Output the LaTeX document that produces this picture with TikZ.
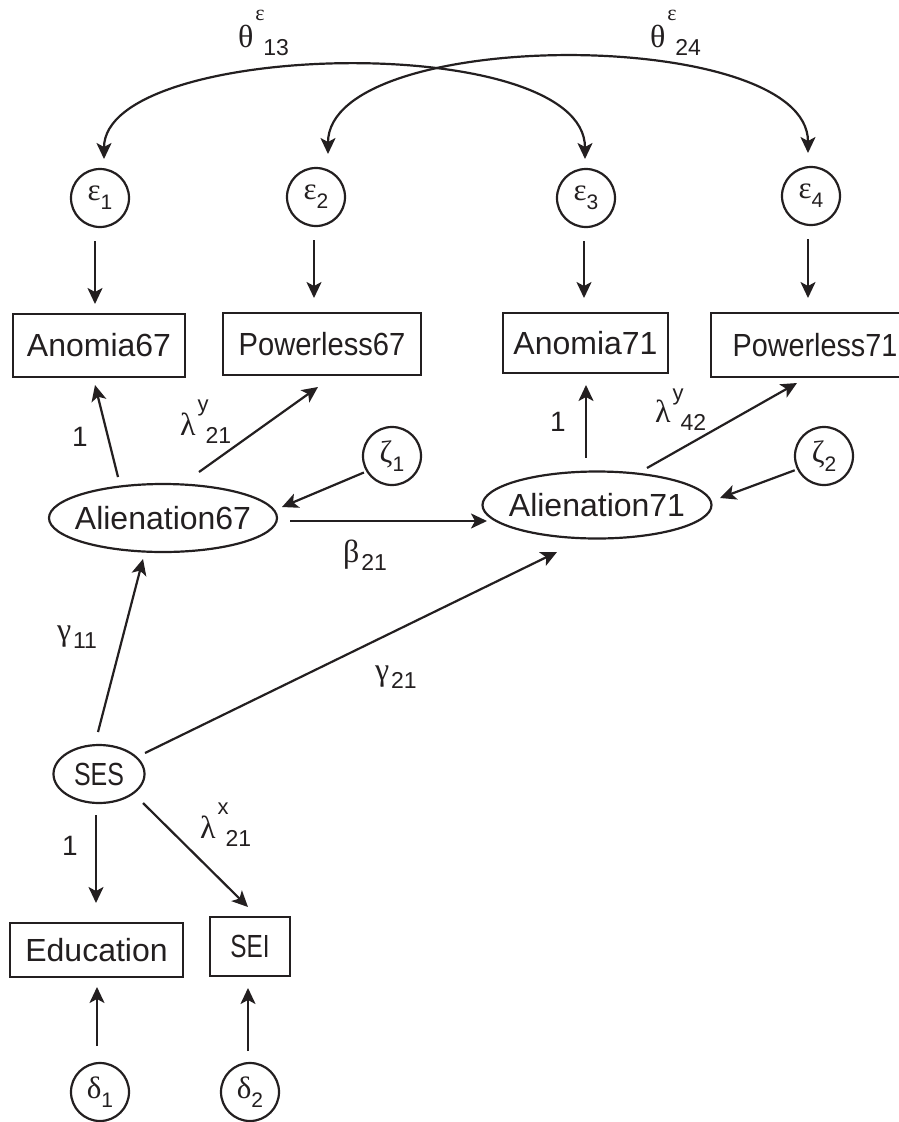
\documentclass[tikz,border=0pt]{standalone}
\usepackage{fontspec}
\usepackage{graphicx}
\setmainfont{Liberation Sans}
\newfontfamily\gk{Liberation Serif}
\usetikzlibrary{arrows.meta,shapes.geometric,calc}
\definecolor{ink}{HTML}{231F20}
\newcommand\gsym[4][24pt]{{\gk #2}\rlap{\hspace{2pt}\raisebox{#1}{\fontsize{22}{22}\selectfont #3}}\hspace{10pt}\raisebox{-8pt}{\fontsize{23}{23}\selectfont #4}}
\newcommand\gsub[2]{{\gk #1}\hspace{2pt}\raisebox{-8pt}{\fontsize{23}{23}\selectfont #2}}
\newcommand\errv[2]{{\gk #1}\raisebox{-9pt}{\fontsize{21}{21}\selectfont #2}}
\tikzset{
  every node/.style={inner sep=0pt, outer sep=0pt},
  box/.style={draw, rectangle, font=\fontsize{32}{38}\selectfont},
  lat/.style={draw, ellipse, font=\fontsize{32}{38}\selectfont},
  err/.style={draw, circle, minimum size=58pt, font=\fontsize{31}{36}\selectfont},
  lab/.style={anchor=base west, font=\fontsize{32}{36}\selectfont},
  one/.style={font=\fontsize{28}{30}\selectfont},
  arr/.style={-{Stealth[length=16pt,width=15pt,inset=4pt]}},
  dbl/.style={{Stealth[length=16pt,width=15pt,inset=4pt]}-{Stealth[length=16pt,width=15pt,inset=4pt]}},
}
\begin{document}
\begin{tikzpicture}[x=1pt,y=-1pt,line width=2.2pt,color=ink]
\useasboundingbox (0,0) rectangle (899,1122);
% error terms
\node[err] (e1) at (100,198) {\errv{ε}{1}};
\node[err] (e2) at (316,197) {\errv{ε}{2}};
\node[err] (e3) at (586,198) {\errv{ε}{3}};
\node[err] (e4) at (811,196) {\errv{ε}{4}};
\node[err] (z1) at (392,456) {\errv{ζ}{1}};
\node[err] (z2) at (824,456) {\errv{ζ}{2}};
\node[err] (d1) at (100,1092) {\errv{δ}{1}};
\node[err] (d2) at (250,1092) {\errv{δ}{2}};
% observed
\node[box, minimum width=172pt, minimum height=63pt] (an67) at (99,345.5) {Anomia67};
\node[box, minimum width=198pt, minimum height=62pt] (pw67) at (322,344) {\scalebox{0.91}[1]{Powerless67}};
\node[box, minimum width=165pt, minimum height=60pt] (an71) at (585.5,343) {Anomia71};
\node[box, minimum width=208pt, minimum height=64pt] (pw71) at (815,345) {\scalebox{0.9}[1]{Powerless71}};
\node[box, minimum width=173pt, minimum height=54pt] (edu) at (96.5,950) {Education};
\node[box, minimum width=80pt, minimum height=59pt] (sei) at (250,946.5) {\scalebox{0.76}[1]{SEI}};
% latent
\node[lat, minimum width=228pt, minimum height=68pt] (al67) at (163,518) {\makebox[0pt]{Alienation67}};
\node[lat, minimum width=229pt, minimum height=67pt] (al71) at (597,505) {\makebox[0pt]{Alienation71}};
\node[lat, minimum width=91pt, minimum height=58pt] (ses) at (99,774) {\makebox[0pt]{\scalebox{0.78}[1]{SES}}};
% labels
\node[lab] (t13) at (238,47) {\gsym[27pt]{θ}{\gk ε}{13}};
\node[lab] (t24) at (650,47) {\gsym[27pt]{θ}{\gk ε}{24}};
\node[lab] (l21) at (180,435) {\gsym{λ}{y}{21}};
\node[lab] (l42) at (655,422) {\gsym[22pt]{λ}{y}{42}};
\node[lab] (lx21) at (200,838) {\gsym{λ}{x}{21}};
\node[lab] (b21) at (343,562) {\gsub{β}{21}};
\node[lab] (g11) at (57,640) {\gsub{γ}{11}};
\node[lab] (g21) at (375,680) {\gsub{γ}{21}};
\node[one] (one1) at (80,437) {1};
\node[one] (one2) at (558,422) {1};
\node[one] (one3) at (70,846) {1};
% covariances
\draw[dbl, shorten <=10pt, shorten >=10pt] ($(e1.north)+(4,0)$) .. controls +(0,-129) and +(0,-139) .. ($(e3.north)+(-1,0)$);
\draw[dbl, shorten <=14pt, shorten >=14pt] ($(e2.north)+(12,0)$) .. controls +(0,-142) and +(0,-141) .. ($(e4.north)+(-3,0)$);
% error to indicators
\draw[arr] ($(e1.south)+(-5,14)$) -- ($(an67.north)+(-4,-10)$);
\draw[arr] ($(e2.south)+(-2,14)$) -- ($(pw67.north)+(-8,-15)$);
\draw[arr] ($(e3.south)+(-2,14)$) -- ($(an71.north)+(-1.5,-15)$);
\draw[arr] ($(e4.south)+(-3,14)$) -- ($(pw71.north)+(-7,-15)$);
% loadings
\draw[arr] ($(al67)+(-45,-41)$) -- ($(an67.south)+(-4,8)$);
\draw[arr] ($(al67)+(36,-46)$) -- ($(pw67.south)+(-4,12)$);
\draw[arr] ($(al71.north)+(-11,-14)$) -- ($(an71.south)+(0.5,12)$);
\draw[arr] ($(al71)+(50,-37)$) -- ($(pw71.south)+(-18,6)$);
% disturbances
\draw[arr] ($(z1.210)+(-3,2)$) -- ($(al67)+(119,-11)$);
\draw[arr] ($(z2.205)+(-3,2)$) -- ($(al71)+(123,-7)$);
% structural
\draw[arr] ($(al67.east)+(13,3)$) -- ($(al71)+(-110,16)$);
\draw[arr] ($(ses)+(-1,-42)$) -- ($(al67)+(-20,41)$);
\draw[arr] ($(ses)+(46,-21)$) -- ($(al71)+(-40,47)$);
% exogenous indicators
\draw[arr] ($(ses.south)+(-3,12)$) -- ($(edu.north)+(-0.5,-20)$);
\draw[arr] ($(ses)+(44,29)$) -- ($(sei.north)+(-2,-10)$);
\draw[arr] ($(d1.north)+(-3,-17)$) -- ($(edu.south)+(0.5,10)$);
\draw[arr] ($(d2.north)+(-2,-12)$) -- ($(sei.south)+(-2,12)$);
\end{tikzpicture}
\end{document}
